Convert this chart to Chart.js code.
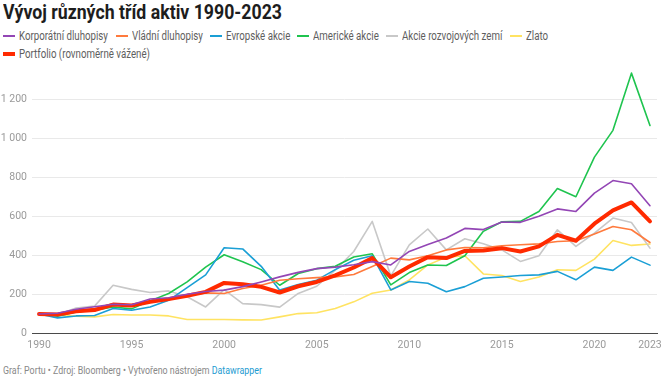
<!DOCTYPE html>
<html lang="cs">
<head>
<meta charset="utf-8">
<title>Vývoj různých tříd aktiv 1990-2023</title>
<script src="https://cdn.jsdelivr.net/npm/chart.js@4.4.1/dist/chart.umd.min.js"></script>
<style>
  html, body { margin: 0; padding: 0; background: #fff; }
  body { width: 670px; height: 379px; position: relative; overflow: hidden; font-family: Roboto, "Noto Sans", sans-serif; }
  #title { position: absolute; left: 3px; top: 0px; font-size: 20px; font-weight: 700; color: #1d1d1d; white-space: nowrap; transform-origin: 0 50%; line-height: 24px; }
  .item { position: absolute; height: 14px; white-space: nowrap; }
  .sw { position: absolute; left: 0; width: 12px; height: 2px; }
  .lbl { position: absolute; left: 16px; top: 0; font-size: 12px; line-height: 14px; color: #5e5e5e; transform-origin: 0 50%; }
  #foot { position: absolute; left: 3px; top: 364px; font-size: 11px; line-height: 14px; color: #888; white-space: nowrap; transform-origin: 0 50%; }
  #foot span { color: #1d9bd1; }
  canvas { position: absolute; left: 0; top: 0; }
</style>
</head>
<body>
<div id="title">Vývoj různých tříd aktiv 1990-2023</div>
<div id="legend"></div>
<div id="foot">Graf: Portu • Zdroj: Bloomberg • Vytvořeno nástrojem <span>Datawrapper</span></div>
<canvas id="chart" width="670" height="379"></canvas>
<script>
// roky
const years = [1990, 1991, 1992, 1993, 1994, 1995, 1996, 1997, 1998, 1999,
  2000, 2001, 2002, 2003, 2004, 2005, 2006, 2007, 2008, 2009,
  2010, 2011, 2012, 2013, 2014, 2015, 2016, 2017, 2018, 2019,
  2020, 2021, 2022, 2023];

// hodnoty (1990 = 100)
const korporatni = [100, 104, 124, 137, 150, 147, 177, 183, 201, 215,
  222, 240, 264, 290, 313, 332, 340, 352, 368, 351,
  420, 456, 489, 538, 532, 571, 569, 600, 638, 625,
  719, 783, 767, 654];
const vladni = [100, 98, 118, 128, 152, 145, 168, 178, 195, 208,
  205, 230, 247, 273, 280, 286, 290, 302, 343, 386,
  377, 398, 428, 440, 439, 449, 454, 459, 471, 475,
  509, 548, 531, 466];
const evropske = [100, 80, 90, 92, 128, 119, 136, 170, 235, 300,
  439, 433, 344, 222, 251, 273, 327, 375, 398, 223,
  266, 257, 214, 240, 283, 289, 297, 300, 318, 275,
  340, 323, 391, 350];
const americke = [100, 89, 110, 119, 136, 126, 167, 205, 264, 340,
  403, 367, 327, 247, 307, 332, 344, 392, 408, 249,
  312, 351, 348, 398, 523, 572, 574, 625, 742, 700,
  903, 1040, 1333, 1065];
const rozvojove = [100, 96, 130, 140, 247, 226, 210, 218, 188, 136,
  225, 153, 148, 135, 205, 242, 324, 420, 574, 295,
  454, 535, 428, 485, 459, 428, 369, 398, 531, 446,
  514, 591, 568, 437];
const zlato = [100, 95, 88, 85, 97, 95, 95, 90, 72, 72,
  72, 70, 69, 85, 102, 106, 128, 162, 206, 223,
  274, 351, 391, 398, 305, 297, 266, 289, 326, 323,
  381, 476, 451, 458];
const portfolio = [100, 97, 114, 120, 148, 143, 162, 176, 193, 213,
  259, 252, 239, 210, 242, 264, 298, 338, 386, 288,
  343, 391, 386, 423, 425, 437, 420, 446, 505, 475,
  562, 630, 671, 574];

const xTicks = [1990, 1995, 2000, 2005, 2010, 2015, 2020, 2023];
const yTicks = [0, 200, 400, 600, 800, 1000, 1200];

const series = [
  { name: 'Korporátní dluhopisy', data: korporatni, color: '#9346b5', w: 1.6, order: 0 },
  { name: 'Vládní dluhopisy', data: vladni, color: '#ff7a3d', w: 1.6, order: 3 },
  { name: 'Evropské akcie', data: evropske, color: '#1a9fd5', w: 1.6, order: 4 },
  { name: 'Americké akcie', data: americke, color: '#1fc44f', w: 1.6, order: 5 },
  { name: 'Akcie rozvojových zemí', data: rozvojove, color: '#c8c8c8', w: 1.6, order: 6 },
  { name: 'Zlato', data: zlato, color: '#ffe362', w: 1.6, order: 7 },
  { name: 'Portfolio (rovnoměrně vážené)', data: portfolio, color: '#ff2a00', w: 4, order: 1 }
];

// legenda
const legendPos = [[3, 29], [116, 29], [210, 29], [297, 29], [386, 29], [510, 29], [3, 47]];
const legendW = [88.5, 72, 64, 66, 100, 21, 132];
const legend = document.getElementById('legend');
const lbls = [];
series.forEach((s, i) => {
  const it = document.createElement('div');
  it.className = 'item';
  it.style.left = legendPos[i][0] + 'px';
  it.style.top = legendPos[i][1] + 'px';
  const sw = document.createElement('div');
  sw.className = 'sw';
  sw.style.background = s.color;
  sw.style.height = s.w > 2 ? '4px' : '2px';
  sw.style.top = s.w > 2 ? '5px' : '6px';
  const l = document.createElement('div');
  l.className = 'lbl';
  l.textContent = s.name;
  it.appendChild(sw);
  it.appendChild(l);
  legend.appendChild(it);
  lbls.push(l);
});
let measured = 0, target = 0;
lbls.forEach((l, i) => { measured += l.getBoundingClientRect().width; target += legendW[i]; });
const k = target / measured;
lbls.forEach(l => l.style.transform = 'scaleX(' + k + ')');

const t = document.getElementById('title');
t.style.transform = 'scaleX(' + (279 / t.getBoundingClientRect().width) + ')';
const f = document.getElementById('foot');
f.style.transform = 'scaleX(' + (259 / f.getBoundingClientRect().width) + ')';

const fmt = v => String(v).replace(/\B(?=(\d{3})+(?!\d))/g, ' ');

new Chart(document.getElementById('chart'), {
  type: 'line',
  data: {
    datasets: series.map(s => ({
      label: s.name,
      data: years.map((y, i) => ({ x: y, y: s.data[i] })),
      borderColor: s.color,
      backgroundColor: s.color,
      borderWidth: s.w,
      borderJoinStyle: 'round',
      borderCapStyle: 'round',
      pointRadius: 0,
      tension: 0,
      order: s.order
    }))
  },
  options: {
    responsive: false,
    animation: false,
    devicePixelRatio: 1,
    layout: { padding: { left: 0, top: 62, right: 13, bottom: 0 } },
    plugins: { legend: { display: false }, tooltip: { enabled: false } },
    scales: {
      x: {
        type: 'linear',
        min: 1989.62,
        max: 2023.38,
        afterBuildTicks: s => { s.ticks = xTicks.map(v => ({ value: v })); },
        afterFit: s => { s.height = 45.5; },
        grid: { display: false, drawTicks: false },
        border: { display: true, color: '#4a4a4a', width: 1 },
        ticks: {
          autoSkip: false, maxRotation: 0, padding: 6,
          color: '#9a9a9a', font: { family: 'Roboto', size: 10.5 },
          callback: v => String(v)
        }
      },
      y: {
        min: 0,
        max: 1390,
        afterBuildTicks: s => { s.ticks = yTicks.map(v => ({ value: v })); },
        afterFit: s => { s.width = 32; },
        grid: { color: '#e9e9e9', drawTicks: false, lineWidth: 1 },
        border: { display: false },
        ticks: {
          padding: 5,
          color: '#9a9a9a', font: { family: 'Roboto', size: 10.5 },
          callback: v => fmt(v)
        }
      }
    }
  }
});
</script>
</body>
</html>
